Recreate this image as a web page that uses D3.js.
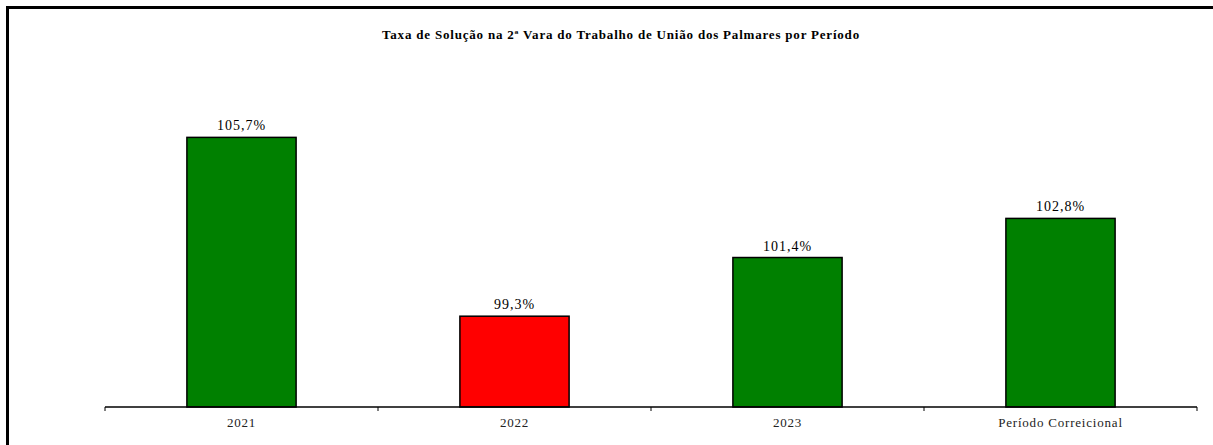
<!DOCTYPE html>
<html><head><meta charset="utf-8">
<script src="https://cdn.jsdelivr.net/npm/d3@7/dist/d3.min.js"></script>
<style>body{margin:0;background:#fff}svg{display:block}</style>
</head><body><svg id="c" width="1213" height="445"></svg>
<script>
const title = "Taxa de Solução na 2ª Vara do Trabalho de União dos Palmares por Período";
const categories = ["2021", "2022", "2023", "Período Correicional"];
const values = [105.7, 99.3, 101.4, 102.8];
const labels = ["105,7%", "99,3%", "101,4%", "102,8%"];
const colors = ["#008000", "#ff0000", "#008000", "#008000"];

const svg = d3.select("#c");
svg.append("rect").attr("x", 7.5).attr("y", 7.5).attr("width", 1230).attr("height", 460)
  .attr("fill", "none").attr("stroke", "#000").attr("stroke-width", 3);

svg.append("text").attr("x", 621).attr("y", 39).attr("text-anchor", "middle")
  .attr("font-family", "Liberation Serif").attr("font-weight", "bold").attr("font-size", 13)
  .attr("letter-spacing", 0.8)
  .text(title);

const x0 = d3.scaleBand().domain(categories).range([105, 1197]).padding(0);
const x = d3.scaleBand().domain(categories).range([105, 1197]).paddingInner(0.6).paddingOuter(0.3);
const y = d3.scaleLinear().domain([96.05, 106]).range([407, 129]);

const g = svg.append("g");
g.selectAll("rect.bar").data(values).join("rect").attr("class", "bar")
  .attr("x", (d, i) => x(categories[i])).attr("width", x.bandwidth())
  .attr("y", d => y(d)).attr("height", d => y.range()[0] - y(d))
  .attr("fill", (d, i) => colors[i]).attr("stroke", "#000").attr("stroke-width", 1.5);

g.selectAll("text.lbl").data(values).join("text").attr("class", "lbl")
  .attr("x", (d, i) => x(categories[i]) + x.bandwidth() / 2).attr("y", d => y(d) - 7)
  .attr("text-anchor", "middle").attr("font-family", "Liberation Serif").attr("font-size", 14)
  .attr("letter-spacing", 1)
  .text((d, i) => labels[i]);

// axis
svg.append("line").attr("x1", 105).attr("x2", 1197).attr("y1", 407).attr("y2", 407)
  .attr("stroke", "#000").attr("stroke-width", 1.5);
const bounds = categories.map(c => x0(c)).concat([x0.range()[1]]);
svg.selectAll("line.tick").data(bounds).join("line").attr("class", "tick")
  .attr("x1", d => d).attr("x2", d => d).attr("y1", 407).attr("y2", 411)
  .attr("stroke", "#000").attr("stroke-width", 1);
svg.selectAll("text.xl").data(categories).join("text").attr("class", "xl")
  .attr("x", d => x0(d) + x0.bandwidth() / 2).attr("y", 427).attr("text-anchor", "middle")
  .attr("font-family", "Liberation Serif").attr("font-size", 13).attr("fill", "#222")
  .attr("letter-spacing", 0.8)
  .text(d => d);
</script></body></html>
